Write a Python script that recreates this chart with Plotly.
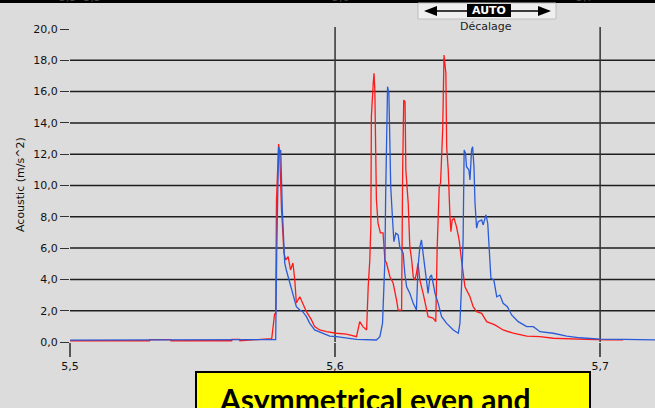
import plotly.graph_objects as go

# ---------------- data ----------------
blue_x = [5.5000, 5.5400, 5.5600, 5.5750, 5.5776, 5.5780, 5.5784, 5.5787, 5.5791, 5.5795,
          5.5801, 5.5806, 5.5810, 5.5816, 5.5823, 5.5835, 5.5848, 5.5854, 5.5867, 5.5878,
          5.5892, 5.5904, 5.5923, 5.5954, 5.5980, 5.6005, 5.6037, 5.6081, 5.6156, 5.6169,
          5.6179, 5.6184, 5.6188, 5.6191, 5.6194, 5.6198, 5.6203, 5.6207, 5.6210, 5.6217,
          5.6222, 5.6229, 5.6238, 5.6244, 5.6257, 5.6263, 5.6270, 5.6282, 5.6295, 5.6307,
          5.6313, 5.6320, 5.6326, 5.6332, 5.6341, 5.6351, 5.6358, 5.6364, 5.6370, 5.6377,
          5.6389, 5.6402, 5.6421, 5.6446, 5.6465, 5.6471, 5.6477, 5.6483, 5.6487, 5.6492,
          5.6496, 5.6505, 5.6509, 5.6515, 5.6519, 5.6524, 5.6528, 5.6534, 5.6540, 5.6553,
          5.6559, 5.6569, 5.6576, 5.6582, 5.6588, 5.6599, 5.6610, 5.6622, 5.6634, 5.6650,
          5.6666, 5.6691, 5.6723, 5.6748, 5.6773, 5.6823, 5.6874, 5.6924, 5.7000, 5.7088,
          5.7207]
blue_y = [0.12, 0.12, 0.12, 0.13, 0.15, 5.88, 10.35, 12.46, 12.14, 12.27,
          8.43, 6.09, 5.05, 4.60, 4.17, 3.32, 2.68, 2.26, 2.04, 1.94,
          1.62, 1.21, 0.77, 0.58, 0.38, 0.34, 0.26, 0.17, 0.13, 0.34,
          1.19, 3.11, 5.24, 9.50, 13.76, 16.31, 15.89, 13.12, 9.92, 7.80,
          6.41, 6.95, 6.84, 6.09, 5.67, 4.39, 3.53, 3.11, 2.47, 2.04,
          4.81, 6.09, 6.52, 5.67, 4.60, 3.11, 4.17, 4.28, 3.75, 3.11,
          2.47, 1.62, 1.19, 0.77, 0.56, 1.19, 3.53, 6.52, 12.27, 12.06,
          11.20, 10.99, 10.35, 12.27, 12.48, 11.20, 8.86, 7.27, 7.69, 7.80,
          7.48, 8.12, 7.59, 5.45, 4.07, 3.96, 2.89, 3.00, 2.47, 2.26,
          1.73, 1.30, 0.98, 0.98, 0.66, 0.56, 0.38, 0.27, 0.19, 0.17,
          0.13]

red_x = [5.5000, 5.5300, 5.5301, 5.5380, 5.5381, 5.5610, 5.5611, 5.5640, 5.5641, 5.5700,
         5.5761, 5.5772, 5.5776, 5.5779, 5.5787, 5.5791, 5.5794, 5.5798, 5.5801, 5.5804,
         5.5807, 5.5814, 5.5823, 5.5832, 5.5841, 5.5848, 5.5854, 5.5867, 5.5877, 5.5892,
         5.5911, 5.5923, 5.5942, 5.5968, 5.6005, 5.6043, 5.6081, 5.6093, 5.6105, 5.6119,
         5.6125, 5.6131, 5.6135, 5.6137, 5.6144, 5.6147, 5.6150, 5.6153, 5.6156, 5.6162,
         5.6171, 5.6181, 5.6188, 5.6194, 5.6207, 5.6219, 5.6225, 5.6232, 5.6238, 5.6251,
         5.6255, 5.6259, 5.6264, 5.6267, 5.6276, 5.6282, 5.6289, 5.6295, 5.6301, 5.6307,
         5.6313, 5.6320, 5.6332, 5.6351, 5.6370, 5.6380, 5.6385, 5.6393, 5.6398, 5.6406,
         5.6411, 5.6414, 5.6418, 5.6421, 5.6427, 5.6433, 5.6437, 5.6442, 5.6449, 5.6458,
         5.6468, 5.6477, 5.6490, 5.6509, 5.6521, 5.6534, 5.6553, 5.6572, 5.6603, 5.6634,
         5.6672, 5.6723, 5.6773, 5.6823, 5.6886, 5.6949, 5.7025, 5.7087]
red_y = [0.08, 0.08, 0.15, 0.15, 0.08, 0.08, 0.17, 0.17, 0.08, 0.17,
         0.22, 1.80, 1.80, 9.07, 12.65, 12.08, 10.16, 8.43, 7.60, 6.52,
         5.69, 5.24, 5.45, 4.60, 5.05, 3.96, 2.49, 2.89, 2.49, 1.94,
         1.41, 0.98, 0.77, 0.66, 0.56, 0.51, 0.34, 1.30, 0.98, 0.77,
         3.53, 5.24, 7.37, 14.40, 16.53, 17.17, 16.10, 13.12, 9.07, 7.60,
         6.97, 6.97, 5.24, 5.05, 4.17, 3.77, 3.32, 2.68, 2.04, 2.04,
         10.99, 15.46, 15.36, 10.99, 8.86, 6.09, 5.24, 4.17, 3.96, 4.39,
         5.03, 3.96, 3.13, 1.62, 1.53, 1.30, 5.88, 9.92, 10.16, 13.55,
         18.34, 17.83, 17.19, 12.48, 10.99, 8.22, 7.05, 7.80, 7.90, 7.37,
         6.52, 5.24, 3.53, 2.89, 2.26, 1.94, 1.83, 1.30, 1.09, 0.77,
         0.56, 0.38, 0.34, 0.24, 0.19, 0.17, 0.13, 0.13]

y_ticks = [0, 2, 4, 6, 8, 10, 12, 14, 16, 18, 20]
y_tick_text = ["0,0", "2,0", "4,0", "6,0", "8,0", "10,0", "12,0", "14,0", "16,0", "18,0", "20,0"]
x_ticks = [5.5, 5.6, 5.7]
x_tick_text = ["5,5", "5,6", "5,7"]
h_grid = [2, 4, 6, 8, 10, 12, 14, 16, 18]
v_grid = [5.6, 5.7]

# ---------------- layout geometry ----------------
W, H = 655, 408
ML, MR, MT, MB = 70, 0, 29, 66
PW, PH = W - ML - MR, H - MT - MB


def pxx(px):
    return (px - ML) / PW


def pxy(py):
    return (H - MB - py) / PH


BG = "#dcdcdc"
FONT = "DejaVu Sans"

fig = go.Figure()
fig.add_trace(go.Scatter(x=red_x, y=red_y, mode="lines",
                         line=dict(color="#ff1a1a", width=1.3), showlegend=False))
fig.add_trace(go.Scatter(x=blue_x, y=blue_y, mode="lines",
                         line=dict(color="#2a5bd7", width=1.3), showlegend=False))

shapes = []
for g in h_grid:
    shapes.append(dict(type="line", xref="paper", yref="y", x0=0, x1=1, y0=g, y1=g,
                       line=dict(color="#1e1e1e", width=1.5), layer="below"))
for g in v_grid:
    shapes.append(dict(type="line", xref="x", yref="paper", x0=g, x1=g, y0=0, y1=pxy(27),
                       line=dict(color="#333333", width=1.5), layer="below"))
# top black band
shapes.append(dict(type="rect", xref="paper", yref="paper", x0=pxx(0), x1=pxx(W),
                   y0=pxy(3), y1=pxy(-2), fillcolor="#000000", line=dict(width=0)))
# AUTO control
shapes.append(dict(type="rect", xref="paper", yref="paper", x0=pxx(418), x1=pxx(556),
                   y0=pxy(19), y1=pxy(3), fillcolor="#efefef",
                   line=dict(color="#bdbdbd", width=1)))
shapes.append(dict(type="line", xref="paper", yref="paper", x0=pxx(426), x1=pxx(549),
                   y0=pxy(11), y1=pxy(11), line=dict(color="#000000", width=1.5)))
shapes.append(dict(type="path", xref="paper", yref="paper",
                   path="M {} {} L {} {} L {} {} Z".format(pxx(424), pxy(11), pxx(437), pxy(6),
                                                          pxx(437), pxy(16)),
                   fillcolor="#000000", line=dict(width=0)))
shapes.append(dict(type="path", xref="paper", yref="paper",
                   path="M {} {} L {} {} L {} {} Z".format(pxx(551), pxy(11), pxx(538), pxy(6),
                                                          pxx(538), pxy(16)),
                   fillcolor="#000000", line=dict(width=0)))
shapes.append(dict(type="rect", xref="paper", yref="paper", x0=pxx(467), x1=pxx(511),
                   y0=pxy(17), y1=pxy(4), fillcolor="#000000", line=dict(width=0)))
# yellow caption box
shapes.append(dict(type="rect", xref="paper", yref="paper", x0=pxx(196), x1=pxx(590),
                   y0=pxy(415), y1=pxy(372), fillcolor="#ffff00",
                   line=dict(color="#000000", width=2)))


def ann(text, px, py, size=11, color="#111111", **kw):
    d = dict(text=text, xref="paper", yref="paper", x=pxx(px), y=pxy(py),
             xanchor=kw.pop("xanchor", "center"), yanchor="middle",
             showarrow=False, font=dict(family=kw.pop("family", FONT), size=size, color=color))
    d.update(kw)
    return d


annotations = [
    ann("Acoustic (m/s^2)", 20, 185, textangle=-90),
    ann("Décalage", 486, 27, color="#222222"),
    ann("<b>AUTO</b>", 489, 10.5, size=11, color="#ffffff"),
    ann("5,5  5,5", 80, -2, color="#444444"),
    ann("5,6", 341, -2, color="#444444"),
    ann("5,7", 585, -2, color="#444444"),
    ann("<b>Asymmetrical even and</b>", 217, 399, size=30, color="#000000",
        xanchor="left", family="Lato"),
]

fig.update_layout(
    width=W, height=H,
    margin=dict(l=ML, r=MR, t=MT, b=MB),
    paper_bgcolor=BG, plot_bgcolor=BG,
    showlegend=False,
    shapes=shapes,
    annotations=annotations,
    xaxis=dict(range=[5.5, 5.7207], tickvals=x_ticks, ticktext=x_tick_text,
               showgrid=False, zeroline=False, showline=False,
               ticks="outside", ticklen=14, tickwidth=1.5, tickcolor="#555555",
               tickfont=dict(family=FONT, size=11, color="#111111")),
    yaxis=dict(range=[0, 20], tickvals=y_ticks, ticktext=y_tick_text,
               showgrid=False, zeroline=False, showline=False,
               ticks="outside", ticklen=9, tickwidth=1.2, tickcolor="#333333",
               tickfont=dict(family=FONT, size=11, color="#111111")),
)

fig.write_html("out.html")
